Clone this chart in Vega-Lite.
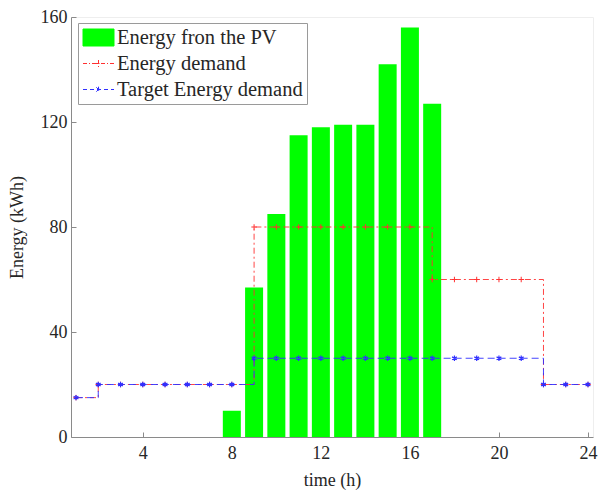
{
  "$schema": "https://vega.github.io/schema/vega-lite/v6.json",
  "width": 522,
  "height": 420,
  "autosize": {"type": "none"},
  "padding": {"left": 71, "top": 17, "right": 8, "bottom": 56},
  "background": "white",
  "config": {
    "view": {"stroke": "#eeeeee", "strokeWidth": 1},
    "font": "Liberation Serif",
    "axis": {
      "grid": false,
      "domainColor": "#8a8a8a",
      "tickColor": "#8a8a8a",
      "tickSize": -5,
      "labelFont": "Liberation Serif",
      "labelFontSize": 18,
      "labelColor": "#262626",
      "titleFont": "Liberation Serif",
      "titleFontSize": 18,
      "titleFontWeight": "normal",
      "titleColor": "#262626"
    }
  },
  "datasets": {
    "pv": [
      {"hour": 8, "energy": 10, "series": "Energy fron the PV"},
      {"hour": 9, "energy": 57, "series": "Energy fron the PV"},
      {"hour": 10, "energy": 85, "series": "Energy fron the PV"},
      {"hour": 11, "energy": 115, "series": "Energy fron the PV"},
      {"hour": 12, "energy": 118, "series": "Energy fron the PV"},
      {"hour": 13, "energy": 119, "series": "Energy fron the PV"},
      {"hour": 14, "energy": 119, "series": "Energy fron the PV"},
      {"hour": 15, "energy": 142, "series": "Energy fron the PV"},
      {"hour": 16, "energy": 156, "series": "Energy fron the PV"},
      {"hour": 17, "energy": 127, "series": "Energy fron the PV"}
    ],
    "demand": [
      {"hour": 1, "energy": 15, "series": "Energy demand"},
      {"hour": 2, "energy": 20, "series": "Energy demand"},
      {"hour": 3, "energy": 20, "series": "Energy demand"},
      {"hour": 4, "energy": 20, "series": "Energy demand"},
      {"hour": 5, "energy": 20, "series": "Energy demand"},
      {"hour": 6, "energy": 20, "series": "Energy demand"},
      {"hour": 7, "energy": 20, "series": "Energy demand"},
      {"hour": 8, "energy": 20, "series": "Energy demand"},
      {"hour": 9, "energy": 80, "series": "Energy demand"},
      {"hour": 10, "energy": 80, "series": "Energy demand"},
      {"hour": 11, "energy": 80, "series": "Energy demand"},
      {"hour": 12, "energy": 80, "series": "Energy demand"},
      {"hour": 13, "energy": 80, "series": "Energy demand"},
      {"hour": 14, "energy": 80, "series": "Energy demand"},
      {"hour": 15, "energy": 80, "series": "Energy demand"},
      {"hour": 16, "energy": 80, "series": "Energy demand"},
      {"hour": 17, "energy": 60, "series": "Energy demand"},
      {"hour": 18, "energy": 60, "series": "Energy demand"},
      {"hour": 19, "energy": 60, "series": "Energy demand"},
      {"hour": 20, "energy": 60, "series": "Energy demand"},
      {"hour": 21, "energy": 60, "series": "Energy demand"},
      {"hour": 22, "energy": 20, "series": "Energy demand"},
      {"hour": 23, "energy": 20, "series": "Energy demand"},
      {"hour": 24, "energy": 20, "series": "Energy demand"}
    ],
    "target": [
      {"hour": 1, "energy": 15, "series": "Target Energy demand"},
      {"hour": 2, "energy": 20, "series": "Target Energy demand"},
      {"hour": 3, "energy": 20, "series": "Target Energy demand"},
      {"hour": 4, "energy": 20, "series": "Target Energy demand"},
      {"hour": 5, "energy": 20, "series": "Target Energy demand"},
      {"hour": 6, "energy": 20, "series": "Target Energy demand"},
      {"hour": 7, "energy": 20, "series": "Target Energy demand"},
      {"hour": 8, "energy": 20, "series": "Target Energy demand"},
      {"hour": 9, "energy": 30, "series": "Target Energy demand"},
      {"hour": 10, "energy": 30, "series": "Target Energy demand"},
      {"hour": 11, "energy": 30, "series": "Target Energy demand"},
      {"hour": 12, "energy": 30, "series": "Target Energy demand"},
      {"hour": 13, "energy": 30, "series": "Target Energy demand"},
      {"hour": 14, "energy": 30, "series": "Target Energy demand"},
      {"hour": 15, "energy": 30, "series": "Target Energy demand"},
      {"hour": 16, "energy": 30, "series": "Target Energy demand"},
      {"hour": 17, "energy": 30, "series": "Target Energy demand"},
      {"hour": 18, "energy": 30, "series": "Target Energy demand"},
      {"hour": 19, "energy": 30, "series": "Target Energy demand"},
      {"hour": 20, "energy": 30, "series": "Target Energy demand"},
      {"hour": 21, "energy": 30, "series": "Target Energy demand"},
      {"hour": 22, "energy": 20, "series": "Target Energy demand"},
      {"hour": 23, "energy": 20, "series": "Target Energy demand"},
      {"hour": 24, "energy": 20, "series": "Target Energy demand"}
    ]
  },
  "encoding": {
    "x": {
      "field": "hour", "type": "quantitative",
      "scale": {"domain": [1, 24], "nice": false, "zero": false},
      "axis": {"values": [4, 8, 12, 16, 20, 24], "title": "time (h)", "labelPadding": 12, "titlePadding": 9}
    },
    "y": {
      "field": "energy", "type": "quantitative",
      "scale": {"domain": [0, 160], "nice": false},
      "axis": {"values": [0, 40, 80, 120, 160], "title": "Energy (kWh)", "labelPadding": 9, "titlePadding": 14}
    }
  },
  "layer": [
    {
      "data": {"name": "pv"},
      "mark": {"type": "bar", "size": 18, "clip": true},
      "encoding": {
        "color": {
          "field": "series", "type": "nominal",
          "scale": {
            "domain": ["Energy fron the PV", "Energy demand", "Target Energy demand"],
            "range": ["#00ff00", "#ff3030", "#3030ff"]
          },
          "legend": {
            "title": null,
            "orient": "none",
            "legendX": 7,
            "legendY": 6,
            "direction": "vertical",
            "padding": 4,
            "strokeColor": "#9a9a9a",
            "fillColor": "white",
            "labelFont": "Liberation Serif",
            "labelFontSize": 20.5,
            "labelColor": "#262626",
            "labelLimit": 400,
            "labelOffset": 8,
            "symbolSize": 400,
            "symbolOffset": 6,
            "rowPadding": 5,
            "encode": {
              "symbols": {
                "update": {
                  "shape": [
                    {"test": "datum.value === 'Energy fron the PV'", "value": "M-1.55,-0.85L1.55,-0.85L1.55,0.85L-1.55,0.85Z"},
                    {"test": "datum.value === 'Energy demand'", "value": "M-1.55,0L1.55,0M0,-0.35L0,0.35M-0.3,0L0.3,0"},
                    {"value": "M-1.55,0L1.55,0M-0.22,-0.22L0.22,0.22M-0.22,0.22L0.22,-0.22M0,-0.28L0,0.28"}
                  ],
                  "fill": [
                    {"test": "datum.value === 'Energy fron the PV'", "value": "#00ff00"},
                    {"value": "transparent"}
                  ],
                  "stroke": [
                    {"test": "datum.value === 'Energy fron the PV'", "value": "#00ff00"},
                    {"test": "datum.value === 'Energy demand'", "value": "#ff3030"},
                    {"value": "#3030ff"}
                  ],
                  "strokeDash": [
                    {"test": "datum.value === 'Energy fron the PV'", "value": []},
                    {"test": "datum.value === 'Energy demand'", "value": [4, 2, 1, 2]},
                    {"value": [4, 3]}
                  ],
                  "strokeWidth": {"value": 1},
                  "opacity": {"value": 1}
                }
              }
            }
          }
        }
      }
    },
    {
      "data": {"name": "demand"},
      "mark": {"type": "line", "interpolate": "step-after", "strokeWidth": 0.9, "strokeDash": [6, 3, 2, 3], "clip": true},
      "encoding": {"color": {"field": "series", "type": "nominal"}}
    },
    {
      "data": {"name": "demand"},
      "mark": {"type": "point", "shape": "M0,-1L0,1M-1,0L1,0", "filled": false, "size": 30, "strokeWidth": 1, "opacity": 1},
      "encoding": {"color": {"field": "series", "type": "nominal"}}
    },
    {
      "data": {"name": "target"},
      "mark": {"type": "line", "interpolate": "step-after", "strokeWidth": 0.9, "strokeDash": [7, 4], "clip": true},
      "encoding": {"color": {"field": "series", "type": "nominal"}}
    },
    {
      "data": {"name": "target"},
      "mark": {"type": "point", "shape": "M0,-1L0,1M-0.87,-0.5L0.87,0.5M-0.87,0.5L0.87,-0.5", "filled": false, "size": 30, "strokeWidth": 1.2, "opacity": 1},
      "encoding": {"color": {"field": "series", "type": "nominal"}}
    }
  ]
}
